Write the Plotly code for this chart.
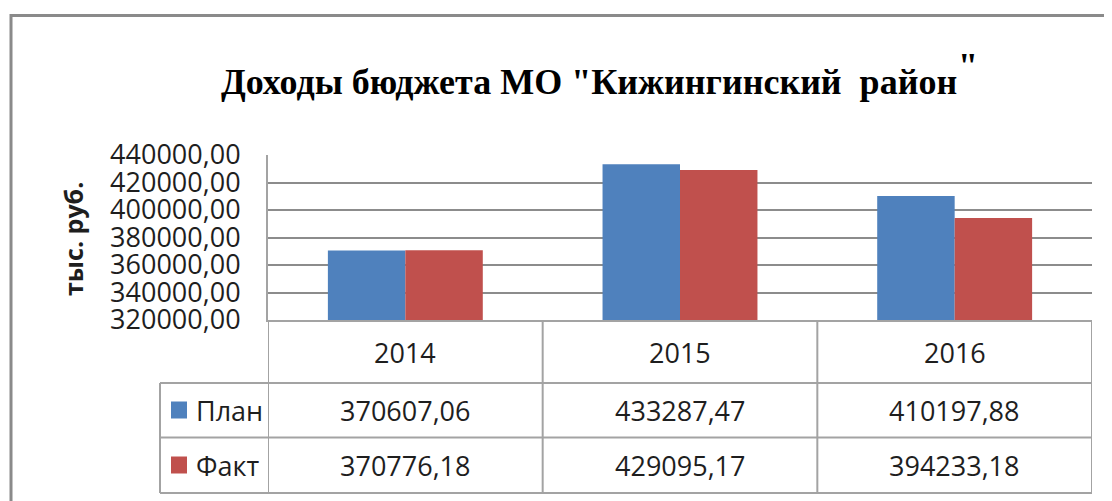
import plotly.graph_objects as go

# ---- data ----
years = ["2014", "2015", "2016"]
plan = [370607.06, 433287.47, 410197.88]
fact = [370776.18, 429095.17, 394233.18]
series_names = ["План", "Факт"]
y_ticks = [320000, 340000, 360000, 380000, 400000, 420000, 440000]
title_text = 'Доходы бюджета МО "Кижингинский  район'
title_close = '"'
y_title = "тыс. руб."

colors = ["#4F81BD", "#C0504D"]
grid_color = "#8c8c8c"
table_color = "#a3a3a3"
text_color = "#1e1e1e"
sans = "Open Sans"
fs = 27

OFF = 8  # page body margin
W, H = 1112 - OFF, 501 - OFF
ML, MR, MT, MB = 268 - OFF, 20, 155 - OFF, 181
PW = W - ML - MR
PH = H - MT - MB


def fmt(v):
    return f"{v:.2f}".replace(".", ",")


def px_x(p):
    # p: pixel x in the browser window
    return (p - OFF - ML) / PW


def px_y(p):
    # p: pixel y in the browser window
    return (H - MB - (p - OFF)) / PH


fig = go.Figure()
for name, vals, col in zip(series_names, [plan, fact], colors):
    fig.add_trace(go.Bar(x=years, y=vals, name=name, marker_color=col,
                         marker_line_width=0, showlegend=False))

shapes = []
annotations = []

# outer chart border (top and left)
shapes.append(dict(type="line", xref="paper", yref="paper",
                   x0=px_x(10), x1=px_x(1112), y0=px_y(15.5), y1=px_y(15.5),
                   line=dict(color="#8a8a8a", width=3)))
shapes.append(dict(type="line", xref="paper", yref="paper",
                   x0=px_x(11), x1=px_x(11), y0=px_y(14), y1=px_y(501),
                   line=dict(color="#8a8a8a", width=3)))

# data table grid
row_lines = [383, 437.5, 493]
for r in row_lines:
    shapes.append(dict(type="line", xref="paper", yref="paper",
                       x0=px_x(160), x1=1, y0=px_y(r), y1=px_y(r),
                       line=dict(color=table_color, width=2)))
for b in [-0.5, 0.5, 1.5, 2.5]:
    shapes.append(dict(type="line", xref="x", yref="paper",
                       x0=b, x1=b, y0=0, y1=px_y(493),
                       line=dict(color=table_color, width=2)))
shapes.append(dict(type="line", xref="paper", yref="paper",
                   x0=px_x(160), x1=px_x(160), y0=px_y(383), y1=px_y(493),
                   line=dict(color=table_color, width=2)))

# header row: years (category index positions on the x axis)
for i, yr in enumerate(years):
    annotations.append(dict(xref="x", yref="paper", x=i, y=px_y(352),
                            xanchor="center", yanchor="middle",
                            text=yr, showarrow=False,
                            font=dict(family=sans, size=fs, color=text_color)))

row_centers = [410, 465]
for name, vals, col, rc in zip(series_names, [plan, fact], colors, row_centers):
    # legend key
    shapes.append(dict(type="rect", xref="paper", yref="paper",
                       x0=px_x(171), x1=px_x(187), y0=px_y(rc - 8.5), y1=px_y(rc + 8.5),
                       fillcolor=col, line=dict(width=0)))
    annotations.append(dict(xref="paper", yref="paper", x=px_x(194), y=px_y(rc),
                            xanchor="left", yanchor="middle", text=name, showarrow=False,
                            font=dict(family=sans, size=fs, color=text_color)))
    for i, v in enumerate(vals):
        annotations.append(dict(xref="x", yref="paper", x=i, y=px_y(rc),
                                xanchor="center", yanchor="middle",
                                text=fmt(v), showarrow=False,
                                font=dict(family=sans, size=fs, color=text_color)))

# axis title
annotations.append(dict(xref="paper", yref="paper", x=px_x(73), y=px_y(239),
                        xanchor="center", yanchor="middle",
                        text=f"<b>{y_title}</b>", textangle=-90, showarrow=False,
                        font=dict(family=sans, size=25, color=text_color)))

# chart title
annotations.append(dict(xref="paper", yref="paper", x=px_x(589), y=px_y(82),
                        xanchor="center", yanchor="middle",
                        text=f"<b>{title_text}</b>", showarrow=False,
                        font=dict(family="Liberation Serif", size=36, color="#000")))
annotations.append(dict(xref="paper", yref="paper", x=px_x(968), y=px_y(66),
                        xanchor="center", yanchor="middle",
                        text=f"<b>{title_close}</b>", showarrow=False,
                        font=dict(family="Liberation Serif", size=36, color="#000")))

fig.update_layout(
    width=W, height=H,
    margin=dict(l=ML, r=MR, t=MT, b=MB, autoexpand=False),
    paper_bgcolor="white", plot_bgcolor="white",
    barmode="group", bargap=0.436, bargroupgap=0,
    shapes=shapes, annotations=annotations,
    separators=", ",
    xaxis=dict(type="category", range=[-0.5, 2.5], showticklabels=False,
               showgrid=False, showline=True, linecolor=table_color, linewidth=2,
               ticks=""),
    yaxis=dict(range=[320000, 440000], tickvals=y_ticks, tickformat=".2f",
               showgrid=True, gridcolor=grid_color, gridwidth=1.6,
               showline=True, linecolor=table_color, linewidth=2,
               ticks="", ticklabelstandoff=20, zeroline=False,
               tickfont=dict(family=sans, size=fs, color=text_color)),
)

fig.write_html("out.html")
